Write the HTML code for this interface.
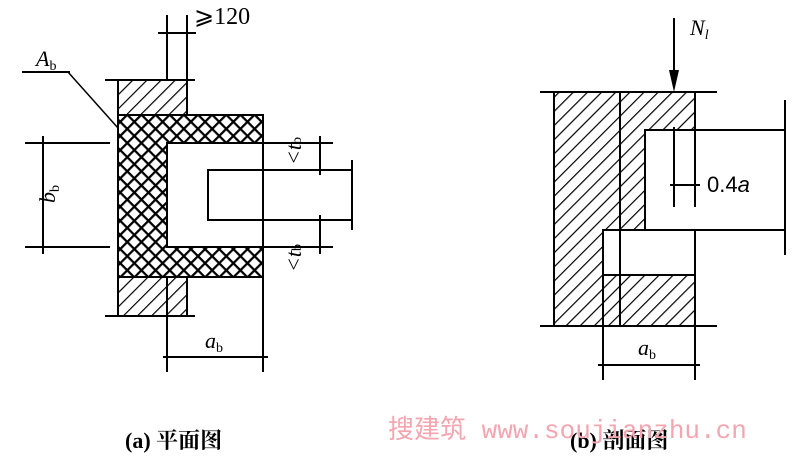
<!DOCTYPE html><html><head><style>body{margin:0;background:#fff}svg{display:block}</style></head><body>
<svg width="800" height="456" viewBox="0 0 800 456" xmlns="http://www.w3.org/2000/svg" font-family="Liberation Serif, serif">
<defs>
<pattern id="h" width="10" height="10" patternUnits="userSpaceOnUse" patternTransform="rotate(45)"><rect width="10" height="10" fill="#fff"/><line x1="0" y1="0" x2="0" y2="10" stroke="#000" stroke-width="2.4"/></pattern>
<pattern id="x" width="10" height="10" patternUnits="userSpaceOnUse" patternTransform="rotate(45)"><rect width="10" height="10" fill="#fff"/><path d="M0 0V10M0 0H10" stroke="#000" stroke-width="4.5"/></pattern>
</defs>
<g stroke="#000" stroke-width="2" fill="none">
<rect x="118" y="80" width="69" height="35" fill="url(#h)"/>
<rect x="118" y="277" width="69" height="39" fill="url(#h)"/>
<path d="M118 115H263V277H118Z" fill="url(#x)"/>
<rect x="167" y="143" width="96" height="104" fill="#fff"/>
<line x1="167" y1="15" x2="167" y2="80"/><line x1="187" y1="15" x2="187" y2="115"/>
<line x1="158" y1="33" x2="196" y2="33"/>
<line x1="105" y1="80" x2="195" y2="80"/><line x1="105" y1="316" x2="195" y2="316"/>
<line x1="22" y1="72" x2="70" y2="72"/><line x1="68" y1="72" x2="118" y2="128" stroke-width="1.5"/>
<path d="M263 170H208V220H263M208 170H352M208 220H352M352 160V230"/>
<line x1="25" y1="143" x2="110" y2="143"/><line x1="25" y1="247" x2="110" y2="247"/>
<line x1="43" y1="136" x2="43" y2="254"/>
<line x1="263" y1="143" x2="333" y2="143"/><line x1="263" y1="247" x2="333" y2="247"/>
<line x1="320" y1="136" x2="320" y2="175"/><line x1="320" y1="215" x2="320" y2="254"/>
<line x1="167" y1="277" x2="167" y2="372"/><line x1="263" y1="277" x2="263" y2="372"/>
<line x1="163" y1="357" x2="268" y2="357"/>
<path d="M554 92H695V130H645V230H603V326H554Z" fill="url(#h)"/>
<rect x="603" y="275" width="92" height="51" fill="url(#h)"/>
<path d="M603 230H695V275" />
<line x1="620" y1="92" x2="620" y2="326"/>
<line x1="540" y1="92" x2="717" y2="92"/><line x1="540" y1="326" x2="717" y2="326"/>
<path d="M645 130H785M645 230H785M785 100V255"/>
<line x1="674" y1="18" x2="674" y2="80"/>
<line x1="674" y1="127" x2="674" y2="207"/><line x1="695" y1="127" x2="695" y2="207"/>
<line x1="670" y1="185" x2="700" y2="185"/>
<line x1="603" y1="326" x2="603" y2="380"/><line x1="695" y1="326" x2="695" y2="380"/>
<line x1="598" y1="365" x2="700" y2="365"/>
</g>
<polygon points="669,70 679,70 674,92" fill="#000"/>
<g font-style="italic" font-size="22">
<text x="36" y="66">A<tspan font-size="14" dy="4" font-style="normal">b</tspan></text>
<text x="30" y="212" transform="rotate(-90 38 195)">b<tspan font-size="14" dy="4" font-style="normal">b</tspan></text>
<text x="205" y="348">a<tspan font-size="14" dy="4" font-style="normal">b</tspan></text>
<text x="638" y="355">a<tspan font-size="14" dy="4" font-style="normal">b</tspan></text>
<text x="690" y="35">N<tspan font-size="14" dy="4">l</tspan></text>
</g>
<text x="194" y="24" font-size="24">⩾120</text>
<text x="707" y="192" font-size="22" font-family="Liberation Sans, sans-serif">0.4<tspan font-style="italic">a</tspan></text>
<text x="0" y="0" font-size="22" transform="translate(301 165) rotate(-90)" font-style="italic">&lt;t<tspan font-size="14" font-style="normal">b</tspan></text>
<text x="0" y="0" font-size="22" transform="translate(301 272) rotate(-90)" font-style="italic">&lt;t<tspan font-size="14" font-style="normal">b</tspan></text>
<text x="125" y="448" font-size="22" font-weight="bold" font-family="Liberation Serif, Noto Serif CJK SC, serif">(a) 平面图</text>
<text x="570" y="448" font-size="22" font-weight="bold" font-family="Liberation Serif, Noto Serif CJK SC, serif">(b) 剖面图</text>
<text x="388" y="438" font-size="26" fill="#f4a6b0" font-family="Liberation Mono, Noto Sans CJK SC, monospace">搜建筑 www.soujianzhu.cn</text>
</svg></body></html>
